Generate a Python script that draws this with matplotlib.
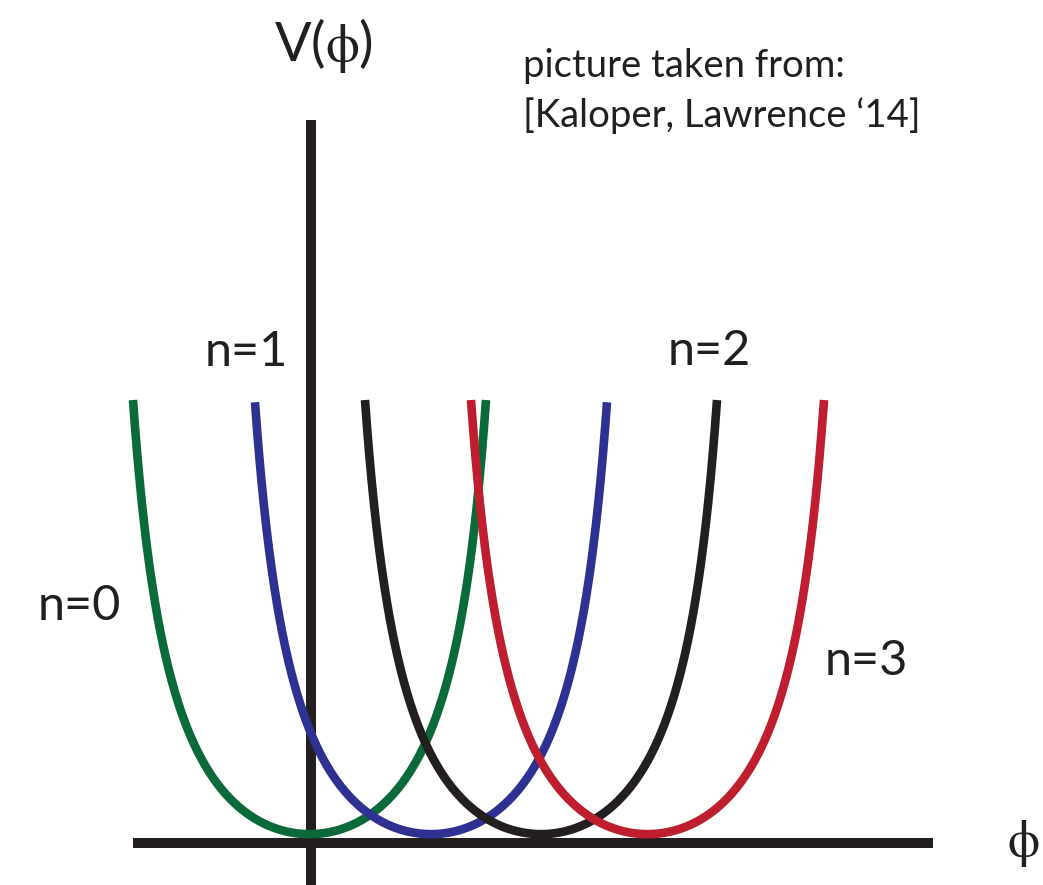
import numpy as np
import matplotlib
matplotlib.use("Agg")
import matplotlib.pyplot as plt

plt.rcParams['mathtext.fontset'] = 'stix'
plt.rcParams['font.family'] = ['Lato', 'DejaVu Sans']

# Branches of the monodromy potential, one per winding number n
branch_labels = ['n=0', 'n=1', 'n=2', 'n=3']
branch_centers = [-0.015, 1.20, 2.30, 3.365]      # position of each minimum in phi
branch_halfwidth = [1.765, 1.76, 1.76, 1.765]     # phi distance from minimum to the cut-off
branch_top = [1.0, 0.995, 1.0, 1.0]               # V where each branch is cut off
branch_floor = 0.02                               # V at the minimum of each branch
branch_colors = ['#0b6a39', '#2e3192', '#231f20', '#be1e2d']
steepness = 0.65                                  # wall steepening of each branch

citation = ['picture taken from:', '[Kaloper, Lawrence \u201814]']

fig = plt.figure(figsize=(10.43, 8.85), dpi=100)
ax = fig.add_axes([0, 0, 1, 1])
ax.set_xlim(-3.11, 7.32)
ax.set_ylim(-0.0948, 1.903)
ax.axis('off')

axis_color = '#231f20'
# coordinate axes
ax.plot([-1.78, 6.22], [0, 0], color=axis_color, lw=7.2, solid_capstyle='butt', zorder=1)
ax.plot([0, 0], [-0.2, 1.632], color=axis_color, lw=7.2, solid_capstyle='butt', zorder=1)

# potential branches
for c0, hw, top, col in zip(branch_centers, branch_halfwidth, branch_top, branch_colors):
    u = np.linspace(-1, 1, 801)
    shape = (1 - steepness) * u**2 / (1 - steepness * u**2)
    V = branch_floor + (top - branch_floor) * shape
    ax.plot(c0 + hw * u, V, color=col, lw=6.2, solid_capstyle='butt', zorder=2)

# branch labels
label_pos = [(-2.73, 0.503), (-1.06, 1.077), (3.57, 1.079), (5.14, 0.379)]
for lab, (x, y) in zip(branch_labels, label_pos):
    ax.text(x, y, lab, fontsize=35, color='#231f20', ha='left', va='baseline')

# axis titles
ax.text(0.12, 1.80, r'V($\mathrm{\phi}$)', fontsize=39, color='#231f20',
        ha='center', va='center')
ax.text(7.12, 0.0, r'$\mathrm{\phi}$', fontsize=37, color='#231f20',
        ha='center', va='center')

# source note
ax.text(2.12, 1.729, citation[0], fontsize=27.5, color='#231f20', ha='left', va='baseline')
ax.text(2.12, 1.616, citation[1], fontsize=27.5, color='#231f20', ha='left', va='baseline')

fig.savefig('out.png', dpi=100, facecolor='white')
